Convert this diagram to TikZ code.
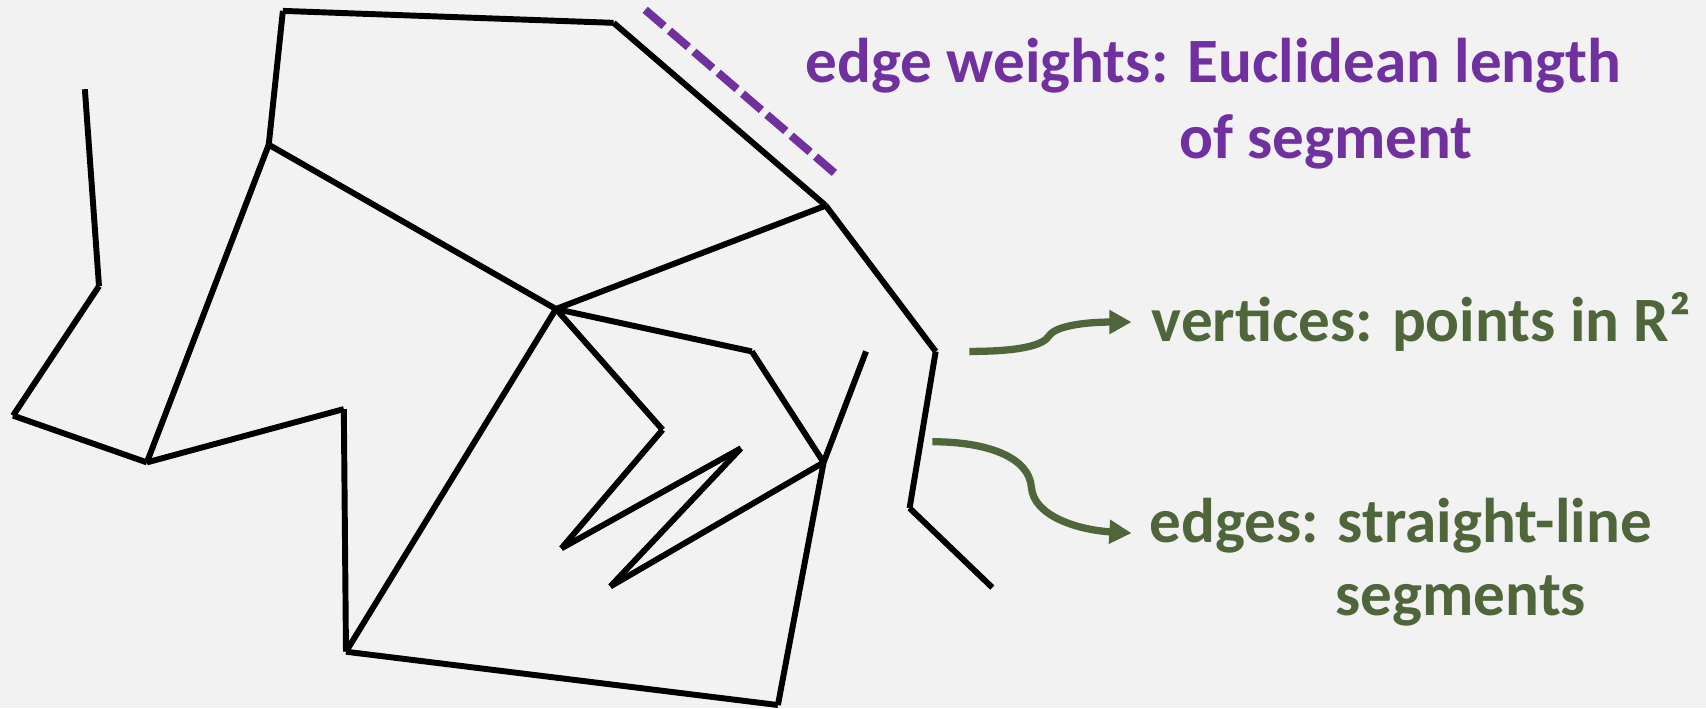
\documentclass[tikz,border=0pt]{standalone}
\usepackage{fontspec}
\setmainfont{Carlito}
\usetikzlibrary{arrows.meta}
\definecolor{bgcol}{HTML}{F2F2F2}
\definecolor{wpurple}{HTML}{7030A0}
\definecolor{wgreen}{RGB}{79,101,58}
\begin{document}
\begin{tikzpicture}[x=0.01cm,y=-0.01cm,
  edgeline/.style={line width=1.55pt,black,line join=miter},
  weightline/.style={line width=2.1pt,wpurple,dash pattern=on 6.5pt off 1.9pt},
  pointer/.style={line width=1.9pt,wgreen,-{Triangle[length=5.8pt,width=6pt]}},
  purplelabel/.style={anchor=base west,inner sep=0,text=wpurple,font=\bfseries\fontsize{16.5}{19.8}\selectfont},
  greenlabel/.style={anchor=base west,inner sep=0,text=wgreen,font=\bfseries\fontsize{16.5}{19.8}\selectfont}]
\fill[bgcol] (0,0) rectangle (1568,651);
\useasboundingbox (0,0) rectangle (1568,651);
% vertices
\coordinate (A) at (78,82);
\coordinate (B) at (91,263);
\coordinate (C) at (12,382);
\coordinate (D) at (135,425);
\coordinate (E) at (247,133);
\coordinate (F) at (260,10);
\coordinate (G) at (564,21);
\coordinate (H) at (759,189);
\coordinate (I) at (860,323);
\coordinate (J) at (836,467);
\coordinate (K) at (912,540);
\coordinate (M) at (511,284);
\coordinate (N) at (691,323);
\coordinate (O) at (757,425);
\coordinate (P) at (796,323);
\coordinate (Q) at (715,648);
\coordinate (R) at (318,599);
\coordinate (S) at (316,376);
\coordinate (T) at (609,395);
\coordinate (U) at (516,504);
\coordinate (V) at (681,412);
\coordinate (W) at (561,539);
% edges
\draw[edgeline] (A) -- (B);
\draw[edgeline] (B) -- (C);
\draw[edgeline] (C) -- (D);
\draw[edgeline] (D) -- (E);
\draw[edgeline] (E) -- (F);
\draw[edgeline] (F) -- (G);
\draw[edgeline] (G) -- (H);
\draw[edgeline] (H) -- (I);
\draw[edgeline] (I) -- (J);
\draw[edgeline] (J) -- (K);
\draw[edgeline] (E) -- (M);
\draw[edgeline] (M) -- (H);
\draw[edgeline] (M) -- (N);
\draw[edgeline] (N) -- (O);
\draw[edgeline] (O) -- (P);
\draw[edgeline] (O) -- (Q);
\draw[edgeline] (Q) -- (R);
\draw[edgeline] (R) -- (S);
\draw[edgeline] (S) -- (D);
\draw[edgeline] (R) -- (M);
\draw[edgeline] (M) -- (T);
\draw[edgeline] (T) -- (U);
\draw[edgeline] (U) -- (V);
\draw[edgeline] (V) -- (W);
\draw[edgeline] (W) -- (O);
% dashed weight marker
\coordinate (w1) at (593,9);
\coordinate (w2) at (767,159);
\draw[weightline] (w1) -- (w2);
% labels
\node[purplelabel] (lw1) at (740,76) {edge weights: Euclidean length};
\node[purplelabel] (lw2) at (1083,145.5) {of segment};
\node[greenlabel] (lv) at (1058,313.5) {vertices: points in R²};
\node[greenlabel] (le1) at (1056,498.5) {edges: straight-line};
\node[greenlabel] (le2) at (1227,566) {segments};
% pointers
\coordinate (p1s) at (891,323);
\coordinate (p1k) at (964,309);
\coordinate (p1e) at (1040,296);
\coordinate (p2s) at (857,406);
\coordinate (p2k) at (948,448);
\coordinate (p2e) at (1040,490);
\draw[pointer] (p1s) .. controls (935,323) and (958,318) .. (p1k)
  .. controls (970,299) and (1000,296) .. (p1e);
\draw[pointer] (p2s) .. controls (907,406) and (946,420) .. (p2k)
  .. controls (950,474) and (990,487) .. (p2e);
\end{tikzpicture}
\end{document}
